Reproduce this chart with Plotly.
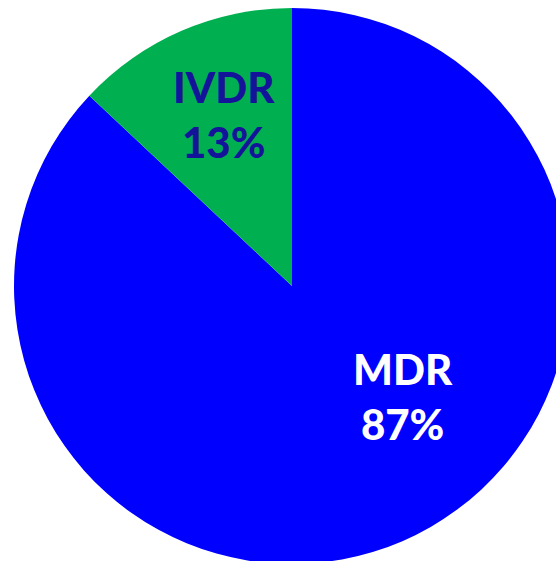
import plotly.graph_objects as go

# drawn clockwise from 12 o'clock: MDR first, IVDR closes the circle on the upper left
labels = ["MDR", "IVDR"]
values = [87, 13]
slice_colors = ["#0000FF", "#00B050"]
text_colors = ["#FFFFFF", "#14149B"]
# where each label sits on the page (paper fractions), picked to match the original
label_x = [0.690, 0.383]
label_y = [0.306, 0.799]

W, H = 584, 572

fig = go.Figure(
    go.Pie(
        labels=labels,
        values=values,
        sort=False,
        direction="clockwise",
        rotation=0,
        marker=dict(colors=slice_colors, line=dict(width=0)),
        textinfo="none",
        hoverinfo="label+percent",
        domain=dict(x=[14 / W, 570 / W], y=[8 / H, 564 / H]),
    )
)

total = sum(values)
for lab, val, col, ax, ay in zip(labels, values, text_colors, label_x, label_y):
    fig.add_annotation(
        text=f"{lab}<br>{round(100 * val / total)}%",
        xref="paper", yref="paper",
        x=ax, y=ay,
        xanchor="center", yanchor="middle",
        showarrow=False,
        font=dict(family="Lato", size=42, color=col, weight=900),
    )

fig.update_layout(
    width=W,
    height=H,
    margin=dict(l=0, r=0, t=0, b=0),
    showlegend=False,
    paper_bgcolor="white",
    plot_bgcolor="white",
)

# the pie runs past the right/bottom edge of the window, so clip the page
fig.write_html(
    "out.html",
    config={"displayModeBar": False},
    post_script="document.body.style.margin='0';document.body.style.overflow='hidden';",
)
